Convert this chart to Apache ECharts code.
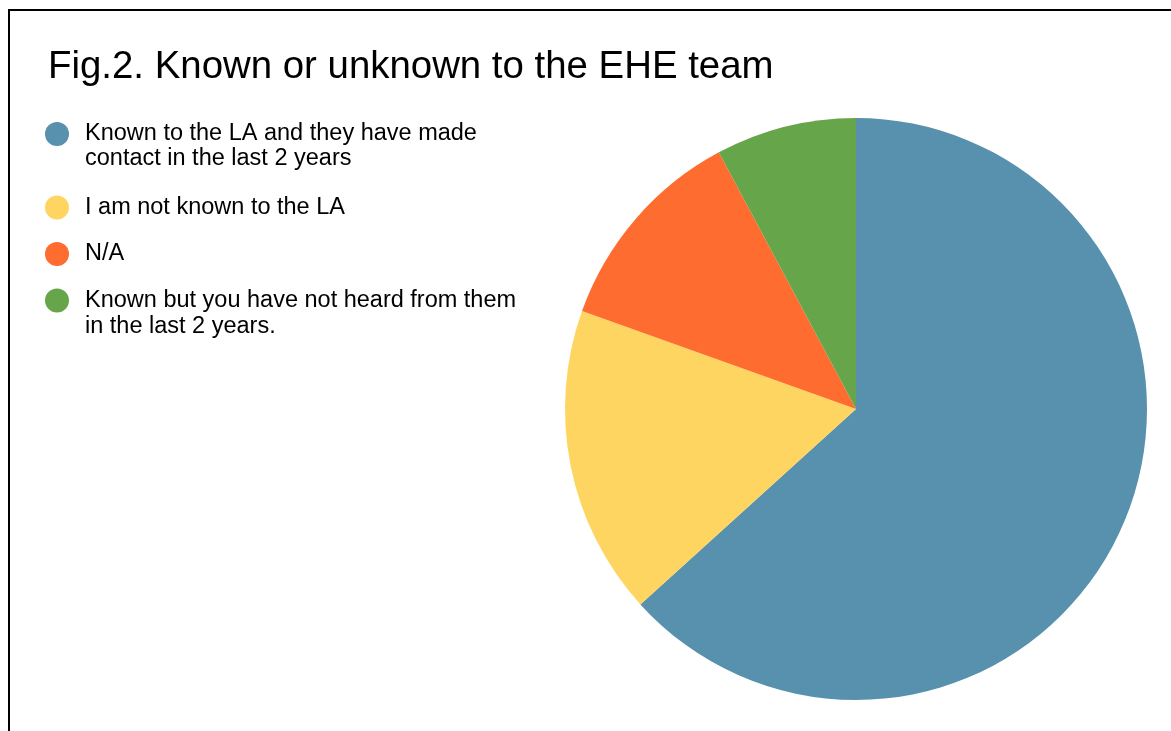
<!DOCTYPE html>
<html>
<head>
<meta charset="utf-8">
<script src="https://cdn.jsdelivr.net/npm/echarts@6/dist/echarts.min.js"></script>
<style>
  html, body { margin: 0; padding: 0; background: #ffffff; }
  #chart { width: 1171px; height: 731px; }
</style>
</head>
<body>
<div id="chart"></div>
<script>
// Responses to: known or unknown to the EHE team
const categories = [
  'Known to the LA and they have made\ncontact in the last 2 years',
  'I am not known to the LA',
  'N/A',
  'Known but you have not heard from them\nin the last 2 years.'
];
const counts = [81, 22, 15, 10];
const colors = ['#5891ad', '#ffd562', '#ff6c2f', '#67a54b'];
const titleText = 'Fig.2. Known or unknown to the EHE team';

const FONT = '"Liberation Sans", Arial, sans-serif';

// Legend text: a round dot in the first line, continuation lines indented;
// the first entry's last line is a little taller to open up the gap below it
const rich = {
  t: { fontSize: 23.5, lineHeight: 26, color: '#000', fontFamily: FONT },
  tb: { fontSize: 23.5, lineHeight: 26, color: '#000', fontFamily: FONT, verticalAlign: 'top' },
  sp: { width: 40, height: 26 },
  spb: { width: 40, height: 28, verticalAlign: 'top' }
};
colors.forEach((c, i) => {
  rich['d' + i] = { width: 24, height: 24, borderRadius: 12, backgroundColor: c };
  rich['g' + i] = { width: 16, height: 24 };
});

const chart = echarts.init(document.getElementById('chart'), null, { renderer: 'canvas' });
chart.setOption({
  backgroundColor: '#ffffff',
  animation: false,
  title: {
    text: titleText,
    left: 43,
    top: 43,
    textStyle: { fontSize: 38.4, fontWeight: 'normal', color: '#000', fontFamily: FONT }
  },
  legend: {
    orient: 'vertical',
    left: 35,
    top: 117,
    itemGap: 22.5,
    itemWidth: 0,
    itemHeight: 0,
    icon: 'rect',
    itemStyle: { opacity: 0 },
    selectedMode: false,
    data: categories,
    formatter: function (name) {
      const i = categories.indexOf(name);
      const lines = name.split('\n');
      return lines.map((l, k) => {
        if (k === 0) return '{d' + i + '|}{g' + i + '|}{t|' + l + '}';
        if (i === 0) return '{spb|}{tb|' + l + '}';
        return '{sp|}{t|' + l + '}';
      }).join('\n');
    },
    textStyle: { rich: rich, fontFamily: FONT, fontSize: 23.5 }
  },
  graphic: [{
    type: 'polyline',
    shape: { points: [[9, 731], [9, 10], [1171, 10]] },
    style: { stroke: '#000', lineWidth: 2, fill: null },
    silent: true
  }],
  series: [{
    type: 'pie',
    center: [856, 409],
    radius: 291,
    startAngle: 90,
    clockwise: true,
    label: { show: false },
    labelLine: { show: false },
    emphasis: { disabled: true },
    itemStyle: { borderWidth: 0 },
    data: categories.map((name, i) => ({ name: name, value: counts[i], itemStyle: { color: colors[i] } }))
  }]
});
</script>
</body>
</html>
